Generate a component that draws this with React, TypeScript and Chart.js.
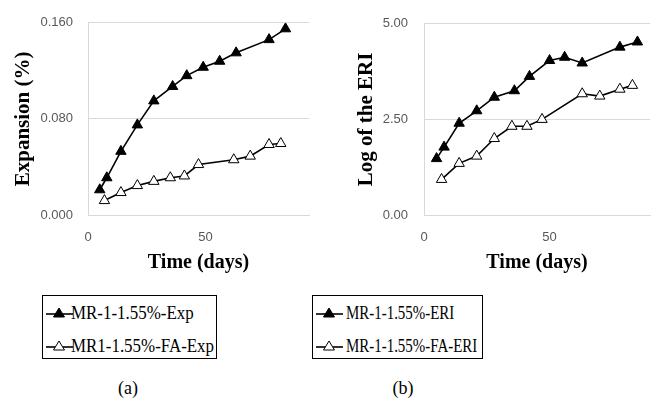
import React, { useEffect, useRef } from 'react';
import { Chart, registerables } from 'chart.js';

Chart.register(...registerables);

// ---- Data ----
const expDaysMR = [5, 8, 14, 21, 28, 36, 42, 49, 56, 63, 77, 84];
const expValuesMR = [0.021, 0.031, 0.053, 0.075, 0.095, 0.107, 0.116, 0.123, 0.128, 0.135, 0.146, 0.155];
const expDaysFA = [7, 14, 21, 28, 35, 41, 47, 62, 69, 77, 82];
const expValuesFA = [0.012, 0.0187, 0.0245, 0.028, 0.031, 0.0325, 0.042, 0.046, 0.049, 0.0587, 0.0595];

const eriDaysMR = [5, 8, 14, 21, 28, 36, 42, 50, 56, 63, 78, 85];
const eriValuesMR = [1.475, 1.775, 2.4, 2.725, 3.08, 3.25, 3.625, 4.04, 4.125, 3.975, 4.39, 4.525];
const eriDaysFA = [7, 14, 21, 28, 35, 41, 47, 63, 70, 78, 83];
const eriValuesFA = [0.93, 1.35, 1.54, 2.0, 2.32, 2.32, 2.5, 3.17, 3.11, 3.29, 3.39];

const expLabels = ['MR-1-1.55%-Exp', 'MR1-1.55%-FA-Exp'];
const eriLabels = ['MR-1-1.55%-ERI', 'MR-1-1.55%-FA-ERI'];
const xTitle = 'Time (days)';
const expYTitle = 'Expansion (%)';
const eriYTitle = 'Log of the ERI';

const toPoints = (xs: number[], ys: number[]) => xs.map((x, i) => ({ x, y: ys[i] }));

const GRID = '#d9d9d9';
const TICK = '#595959';

type PanelProps = {
  left: number;
  width: number;
  height: number;
  axisWidth: number;
  padRight: number;
  yTitle: string;
  yTitlePad: number;
  yTickPad: number;
  yMax: number;
  yStep: number;
  decimals: number;
  xMax: number;
  filled: { x: number; y: number }[];
  open: { x: number; y: number }[];
};

function Panel(p: PanelProps) {
  const ref = useRef<HTMLCanvasElement | null>(null);
  useEffect(() => {
    if (!ref.current) return;
    const chart = new Chart(ref.current, {
      type: 'line',
      data: {
        datasets: [
          {
            data: p.filled,
            borderColor: '#000',
            borderWidth: 1.6,
            backgroundColor: '#000',
            pointStyle: 'triangle',
            pointRadius: 6,
            pointBackgroundColor: '#000',
            pointBorderColor: '#000',
            pointBorderWidth: 1,
            tension: 0,
            order: 1,
          },
          {
            data: p.open,
            borderColor: '#000',
            borderWidth: 1.6,
            backgroundColor: '#fff',
            pointStyle: 'triangle',
            pointRadius: 6,
            pointBackgroundColor: '#fff',
            pointBorderColor: '#000',
            pointBorderWidth: 1,
            tension: 0,
            order: 0,
          },
        ],
      },
      options: {
        animation: false,
        responsive: false,
        maintainAspectRatio: false,
        layout: { padding: { top: 15, right: p.padRight, bottom: 0, left: 0 } },
        plugins: { legend: { display: false }, tooltip: { enabled: false } },
        scales: {
          x: {
            type: 'linear',
            min: 0,
            max: p.xMax,
            afterFit: (s: any) => {
              s.height = 65;
            },
            ticks: {
              stepSize: 50,
              includeBounds: false,
              color: TICK,
              padding: 15,
              font: { family: 'Liberation Sans', size: 13 },
            },
            grid: { display: false, drawTicks: false },
            border: { display: true, color: GRID, width: 1 },
            title: {
              display: true,
              text: xTitle,
              color: '#000',
              padding: { top: 0, bottom: 7 },
              font: { family: 'Liberation Serif', size: 20, weight: 'bold', lineHeight: 1 },
            },
          },
          y: {
            type: 'linear',
            min: 0,
            max: p.yMax,
            afterFit: (s: any) => {
              s.width = p.axisWidth;
            },
            ticks: {
              stepSize: p.yStep,
              color: TICK,
              padding: p.yTickPad,
              font: { family: 'Liberation Sans', size: 13 },
              callback: (v: any) => Number(v).toFixed(p.decimals),
            },
            grid: { color: GRID, lineWidth: 1, drawTicks: false },
            border: { display: true, color: GRID, width: 1 },
            title: {
              display: true,
              text: p.yTitle,
              color: '#000',
              padding: { top: p.yTitlePad, bottom: 0 },
              font: { family: 'Liberation Serif', size: 21, weight: 'bold', lineHeight: 1 },
            },
          },
        },
      },
    });
    return () => chart.destroy();
  }, []);
  return (
    <canvas
      ref={ref}
      width={p.width}
      height={p.height}
      style={{ position: 'absolute', left: p.left, top: 0, width: p.width, height: p.height }}
    />
  );
}

function Tri({ filled }: { filled: boolean }) {
  return (
    <svg width={30} height={14} style={{ position: 'absolute', left: 0, top: -7 }}>
      <line x1={1} y1={8} x2={28} y2={8} stroke="#000" strokeWidth={1.6} />
      <polygon points="14,2 19.5,11 8.5,11" fill={filled ? '#000' : '#fff'} stroke="#000" strokeWidth={1} />
    </svg>
  );
}

function Legend({
  left,
  width,
  labels,
  textLeft,
  scaleX,
}: {
  left: number;
  width: number;
  labels: string[];
  textLeft: number;
  scaleX: number;
}) {
  const rows = [16.7, 50];
  return (
    <div
      style={{
        position: 'absolute',
        left,
        top: 295,
        width,
        height: 64,
        border: '1px solid #000',
        boxSizing: 'border-box',
        overflow: 'hidden',
      }}
    >
      {labels.map((l, i) => (
        <div key={l} style={{ position: 'absolute', left: 2, top: rows[i], width: width - 4 }}>
          <Tri filled={i === 0} />
          <span
            style={{
              position: 'absolute',
              left: textLeft,
              top: -11,
              lineHeight: '22px',
              whiteSpace: 'nowrap',
              fontFamily: 'Liberation Serif',
              fontSize: 18,
              color: '#000',
              transform: `scaleX(${scaleX})`,
              transformOrigin: 'left center',
            }}
          >
            {l}
          </span>
        </div>
      ))}
    </div>
  );
}

export default function App() {
  return (
    <div
      style={{
        position: 'fixed',
        left: 0,
        top: 0,
        width: 657,
        height: 400,
        background: '#fff',
        overflow: 'hidden',
      }}
    >
      <Panel
        left={0}
        width={330}
        height={280}
        axisWidth={88}
        padRight={21}
        yTitle={expYTitle}
        yTitlePad={13}
        yTickPad={15}
        yMax={0.16}
        yStep={0.08}
        decimals={3}
        xMax={94}
        filled={toPoints(expDaysMR, expValuesMR)}
        open={toPoints(expDaysFA, expValuesFA)}
      />
      <Panel
        left={330}
        width={327}
        height={280}
        axisWidth={94}
        padRight={4}
        yTitle={eriYTitle}
        yTitlePad={26}
        yTickPad={16}
        yMax={5}
        yStep={2.5}
        decimals={2}
        xMax={90}
        filled={toPoints(eriDaysMR, eriValuesMR)}
        open={toPoints(eriDaysFA, eriValuesFA)}
      />
      <Legend left={42} width={175} labels={expLabels} textLeft={26} scaleX={0.94} />
      <Legend left={312} width={171} labels={eriLabels} textLeft={31} scaleX={0.83} />
      <div
        style={{
          position: 'absolute',
          left: 128,
          top: 388,
          transform: 'translate(-50%, -50%)',
          fontFamily: 'Liberation Serif',
          fontSize: 18,
          color: '#000',
        }}
      >
        (a)
      </div>
      <div
        style={{
          position: 'absolute',
          left: 403,
          top: 388,
          transform: 'translate(-50%, -50%)',
          fontFamily: 'Liberation Serif',
          fontSize: 18,
          color: '#000',
        }}
      >
        (b)
      </div>
    </div>
  );
}
